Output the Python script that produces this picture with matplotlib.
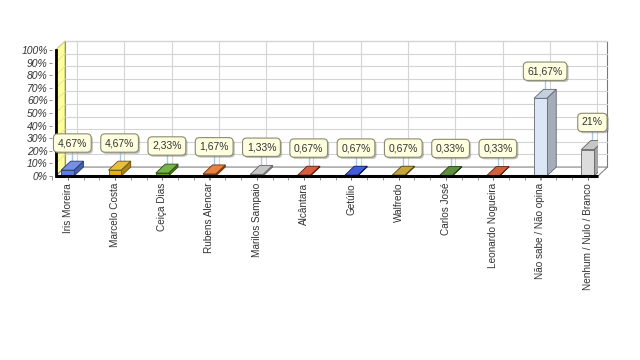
import matplotlib
matplotlib.use('Agg')
import matplotlib.pyplot as plt
import matplotlib.colors as mcolors
import matplotlib.patheffects as pe
from matplotlib.patches import Polygon
import numpy as np

plt.rcParams['font.family'] = ['Liberation Sans', 'DejaVu Sans']

# data
candidatos = ['Iris Moreira', 'Marcelo Costa', 'Ceiça Dias', 'Rubens Alencar', 'Marilos Sampaio',
              'Alcântara', 'Getúlio', 'Walfredo', 'Carlos José', 'Leonardo Nogueira',
              'Não sabe / Não opina', 'Nenhum / Nulo / Branco']
valores = [4.67, 4.67, 2.33, 1.67, 1.33, 0.67, 0.67, 0.67, 0.33, 0.33, 61.67, 21.0]
rotulos = ['4,67%', '4,67%', '2,33%', '1,67%', '1,33%', '0,67%', '0,67%', '0,67%', '0,33%', '0,33%',
           '61,67%', '21%']
cores = ['#5a7fe0', '#e2b21e', '#5ea52a', '#e46c22', '#dcdcdc', '#d2401c',
         '#1f3fd6', '#b8951a', '#3f7c1c', '#cc4418', '#dbe6f7', '#dcdcdc']

fig = plt.figure(figsize=(6.4, 3.6), dpi=100)
ax = fig.add_axes([52/640, 184/360, 546/640, 126/360])
x0, x1 = -0.252, 11.218
ax.set_xlim(x0, x1)
ax.set_ylim(0, 100)
for s in ax.spines.values():
    s.set_visible(False)

dx, dy = 0.2, 7.1   # 3D depth
w = 0.27

# back wall + grid
ax.add_patch(Polygon([(x0+dx, dy), (x1+dx, dy), (x1+dx, 100+dy), (x0+dx, 100+dy)],
                     closed=True, fc='white', ec='#777777', lw=0.8, clip_on=False, zorder=0))
for g in range(10, 101, 10):
    ax.plot([x0+dx, x1+dx], [g+dy, g+dy], color='#d4d4d4', lw=0.8, clip_on=False, zorder=0.5)
    ax.plot([x0, x0+dx], [g, g+dy], color='#e0e0a0', lw=0.6, clip_on=False, zorder=1.2)
for i in range(len(candidatos)):
    ax.plot([i+dx, i+dx], [dy, 100+dy], color='#d4d4d4', lw=0.8, clip_on=False, zorder=0.5)

# left wall and floor
ax.add_patch(Polygon([(x0, 0), (x0+dx, dy), (x0+dx, 100+dy), (x0, 100)], closed=True,
                     fc='#ffff99', ec='#999966', lw=0.7, clip_on=False, zorder=1))
ax.add_patch(Polygon([(x0, 0), (x1, 0), (x1+dx, dy), (x0+dx, dy)], closed=True,
                     fc='white', ec='#888888', lw=0.8, clip_on=False, zorder=1))

# bars
def shade(c, f):
    r, g, b = mcolors.to_rgb(c)
    if f > 1:
        return (r + (1-r)*(f-1), g + (1-g)*(f-1), b + (1-b)*(f-1))
    return (r*f, g*f, b*f)

for i, (v, c) in enumerate(zip(valores, cores)):
    l, r = i - w/2, i + w/2
    ec = shade(c, 0.45)
    ax.add_patch(Polygon([(r, 0), (r+dx, dy), (r+dx, v+dy), (r, v)], closed=True,
                         fc=shade(c, 0.75), ec=ec, lw=0.6, zorder=3))
    ax.bar(i, v, width=w, color=c, edgecolor=ec, linewidth=0.6, zorder=3)
    ax.add_patch(Polygon([(l, v), (r, v), (r+dx, v+dy), (l+dx, v+dy)], closed=True,
                         fc=shade(c, 1.15) if c not in ('#dcdcdc', '#dbe6f7') else shade(c, 0.9),
                         ec=ec, lw=0.6, zorder=3.5))
    ly = v + 21.5
    ax.plot([i+dx/2, i+dx/2], [v+dy/2, ly], color='#a9c8ec', lw=1.0, zorder=2)
    t = ax.text(i + dx/2, ly, rotulos[i], ha='center', va='center', fontsize=7.5, color='#333333',
                zorder=6, bbox=dict(boxstyle='round,pad=0.4', fc='#ffffe0', ec='#8a8a70', lw=0.8))
    t.get_bbox_patch().set_path_effects([pe.SimplePatchShadow(offset=(1.2, -1.2), alpha=0.35), pe.Normal()])

# axes lines
ax.plot([x0, x1], [0, 0], color='black', lw=2.2, clip_on=False, zorder=5, solid_capstyle='butt')
ax.plot([x0, x0], [0, 100], color='black', lw=2.0, clip_on=False, zorder=5)

ax.set_yticks(np.arange(0, 101, 10))
ax.set_yticklabels([f'{g}%' for g in range(0, 101, 10)], fontsize=7.5, style='italic', color='#333333')
ax.set_xticks(range(len(candidatos)))
ax.set_xticklabels(candidatos, rotation=90, fontsize=7.2, color='#333333', va='top')
ax.set_xticks(np.arange(-0.33, 11.2, 1/3), minor=True)
ax.tick_params(axis='x', which='both', length=3, width=0.5, color='#666666', pad=2)
ax.tick_params(axis='y', length=2, width=0.5, color='#666666', pad=1)

fig.savefig('out.png', dpi=100)
